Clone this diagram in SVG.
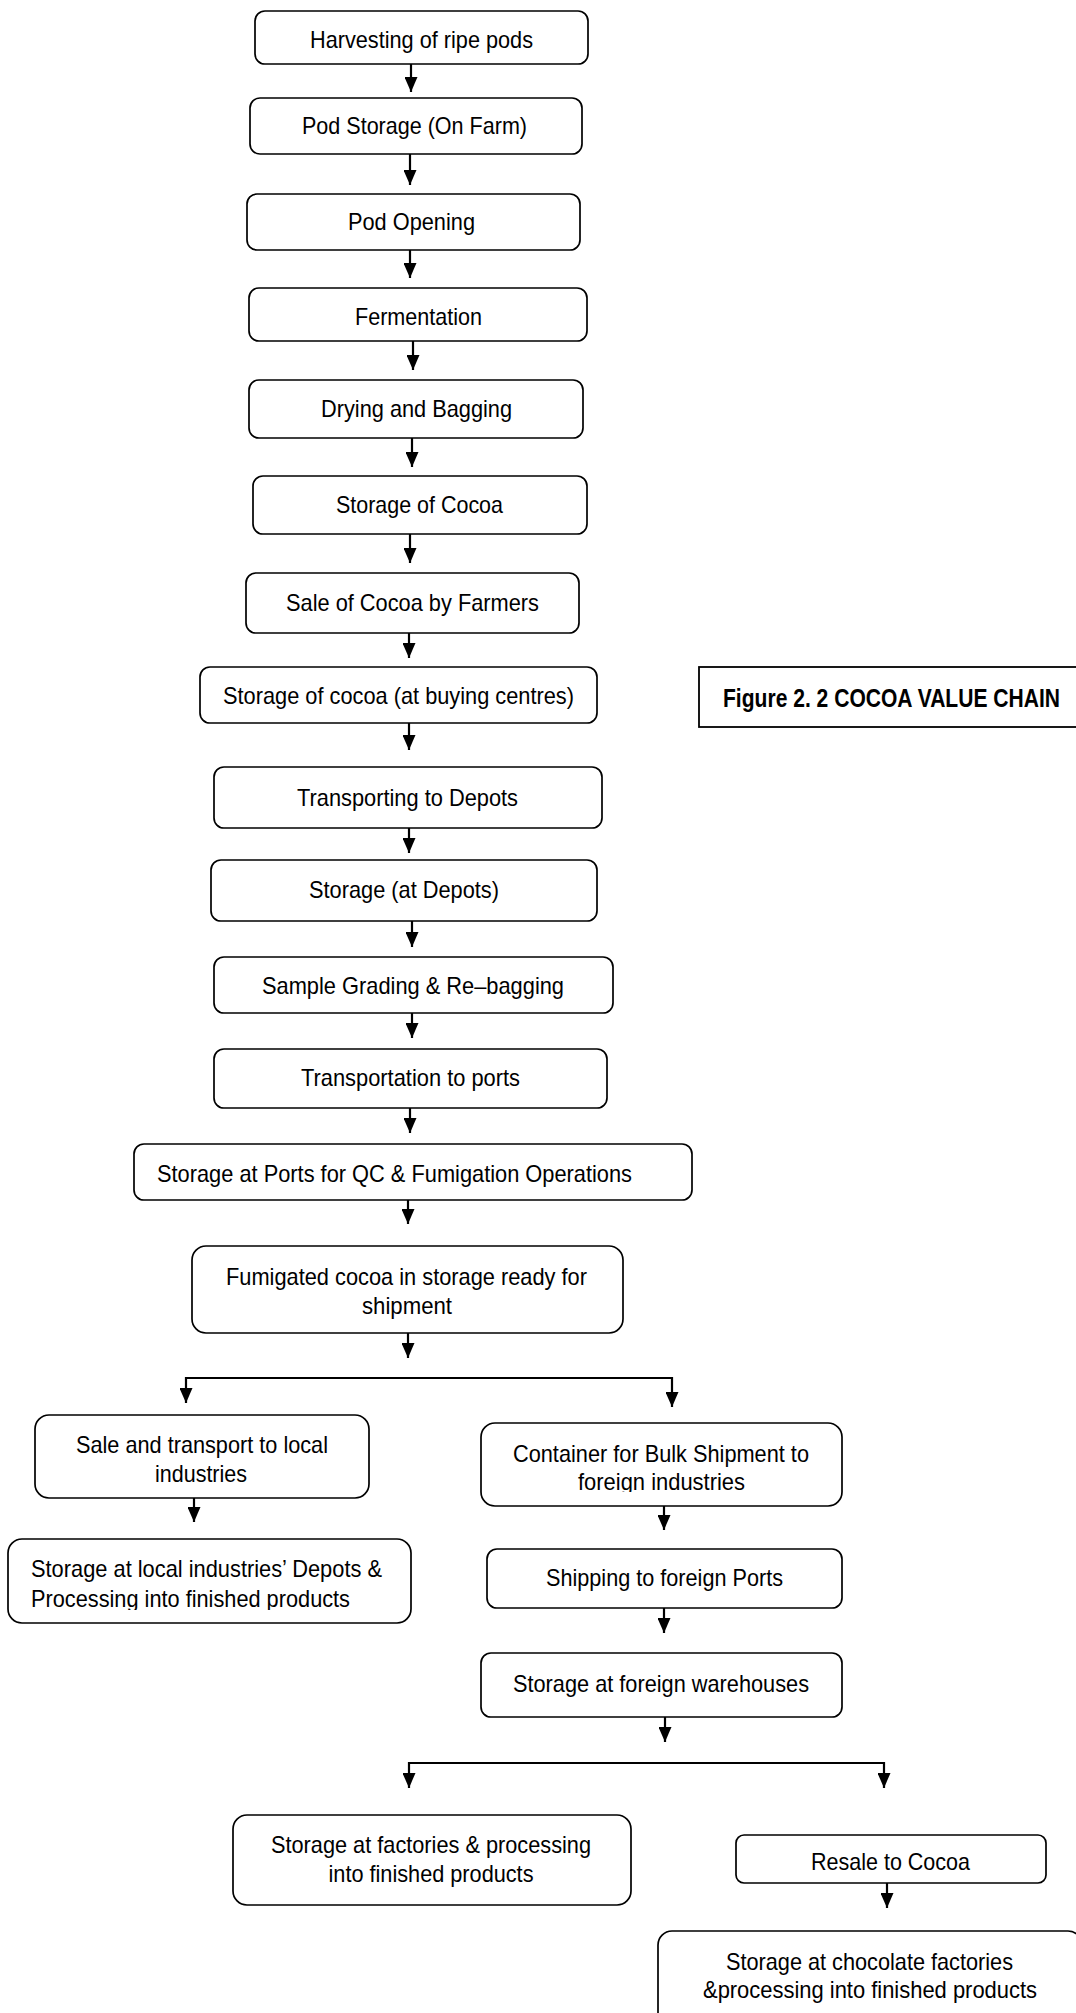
<svg xmlns="http://www.w3.org/2000/svg" width="1076" height="2013" viewBox="0 0 1076 2013">
<style>
.box{fill:#fff;stroke:#000;stroke-width:1.7}
.t{font-family:"Liberation Sans",Arial,sans-serif;font-size:24px;fill:#000;text-anchor:middle}
.l{text-anchor:start}
.b{font-weight:bold;font-size:26px}
.c{fill:none;stroke:#000;stroke-width:2.2}
</style>
<defs>
<marker id="ah" markerUnits="userSpaceOnUse" viewBox="0 0 15 13" markerWidth="15" markerHeight="13" refX="15" refY="6.5" orient="auto">
<path d="M0,0 L15,6.5 L0,13 z" fill="#000"/>
</marker>
<clipPath id="clipLocal"><rect x="0" y="1530" width="420" height="80"/></clipPath>
<clipPath id="clipCont"><rect x="470" y="1420" width="380" height="72"/></clipPath>
</defs>
<rect width="1076" height="2013" fill="#fff"/>

<g id="connectors">
<path class="c" marker-end="url(#ah)" d="M411,64 V92"/>
<path class="c" marker-end="url(#ah)" d="M410,154 V185"/>
<path class="c" marker-end="url(#ah)" d="M410,250 V278"/>
<path class="c" marker-end="url(#ah)" d="M413,341 V370"/>
<path class="c" marker-end="url(#ah)" d="M412,438 V467"/>
<path class="c" marker-end="url(#ah)" d="M410,534 V563"/>
<path class="c" marker-end="url(#ah)" d="M409,633 V658"/>
<path class="c" marker-end="url(#ah)" d="M409,723 V750"/>
<path class="c" marker-end="url(#ah)" d="M409,828 V853"/>
<path class="c" marker-end="url(#ah)" d="M412,921 V947"/>
<path class="c" marker-end="url(#ah)" d="M412,1013 V1038"/>
<path class="c" marker-end="url(#ah)" d="M410,1108 V1133"/>
<path class="c" marker-end="url(#ah)" d="M408,1200 V1224"/>
<path class="c" marker-end="url(#ah)" d="M408,1333 V1358"/>
<path class="c" marker-end="url(#ah)" d="M672,1378 H186 V1403"/>
<path class="c" marker-end="url(#ah)" d="M186,1378 H672 V1407"/>
<path class="c" marker-end="url(#ah)" d="M194,1498 V1522"/>
<path class="c" marker-end="url(#ah)" d="M664,1506 V1530"/>
<path class="c" marker-end="url(#ah)" d="M664,1608 V1633"/>
<path class="c" marker-end="url(#ah)" d="M665,1717 V1742"/>
<path class="c" marker-end="url(#ah)" d="M884,1763 H409 V1788"/>
<path class="c" marker-end="url(#ah)" d="M409,1763 H884 V1788"/>
<path class="c" marker-end="url(#ah)" d="M887,1883 V1908"/>
</g>

<g id="n1"><rect class="box" x="255" y="11" width="333" height="53" rx="10"/><text class="t" x="421.5" y="48" textLength="223" lengthAdjust="spacingAndGlyphs">Harvesting of ripe pods</text></g>
<g id="n2"><rect class="box" x="250" y="98" width="332" height="56" rx="10"/><text class="t" x="414.5" y="134" textLength="225" lengthAdjust="spacingAndGlyphs">Pod Storage (On Farm)</text></g>
<g id="n3"><rect class="box" x="247" y="194" width="333" height="56" rx="10"/><text class="t" x="411.5" y="230" textLength="127" lengthAdjust="spacingAndGlyphs">Pod Opening</text></g>
<g id="n4"><rect class="box" x="249" y="288" width="338" height="53" rx="10"/><text class="t" x="418.5" y="325" textLength="127" lengthAdjust="spacingAndGlyphs">Fermentation</text></g>
<g id="n5"><rect class="box" x="249" y="380" width="334" height="58" rx="10"/><text class="t" x="416.5" y="417" textLength="191" lengthAdjust="spacingAndGlyphs">Drying and Bagging</text></g>
<g id="n6"><rect class="box" x="253" y="476" width="334" height="58" rx="10"/><text class="t" x="419.5" y="513" textLength="167" lengthAdjust="spacingAndGlyphs">Storage of Cocoa</text></g>
<g id="n7"><rect class="box" x="246" y="573" width="333" height="60" rx="10"/><text class="t" x="412.5" y="611" textLength="253" lengthAdjust="spacingAndGlyphs">Sale of Cocoa by Farmers</text></g>
<g id="n8"><rect class="box" x="200" y="667" width="397" height="56" rx="10"/><text class="t" x="398.5" y="704" textLength="351" lengthAdjust="spacingAndGlyphs">Storage of cocoa (at buying centres)</text></g>
<g id="n9"><rect class="box" x="214" y="767" width="388" height="61" rx="10"/><text class="t" x="407.5" y="806" textLength="221" lengthAdjust="spacingAndGlyphs">Transporting to Depots</text></g>
<g id="n10"><rect class="box" x="211" y="860" width="386" height="61" rx="10"/><text class="t" x="404" y="898" textLength="190" lengthAdjust="spacingAndGlyphs">Storage (at Depots)</text></g>
<g id="n11"><rect class="box" x="214" y="957" width="399" height="56" rx="10"/><text class="t" x="413" y="994" textLength="302" lengthAdjust="spacingAndGlyphs">Sample Grading &amp; Re–bagging</text></g>
<g id="n12"><rect class="box" x="214" y="1049" width="393" height="59" rx="10"/><text class="t" x="410.5" y="1086" textLength="219" lengthAdjust="spacingAndGlyphs">Transportation to ports</text></g>
<g id="n13"><rect class="box" x="134" y="1144" width="558" height="56" rx="10"/><text class="t" x="394.5" y="1182" textLength="475" lengthAdjust="spacingAndGlyphs">Storage at Ports for QC &amp; Fumigation Operations</text></g>
<g id="n14"><rect class="box" x="192" y="1246" width="431" height="87" rx="14"/><text class="t" x="406.5" y="1285" textLength="361" lengthAdjust="spacingAndGlyphs">Fumigated cocoa in storage ready for</text><text class="t" x="407" y="1314" textLength="90" lengthAdjust="spacingAndGlyphs">shipment</text></g>

<g id="figure-title"><rect x="699" y="667" width="384" height="60" fill="#fff" stroke="#000" stroke-width="1.8"/><text class="t b" x="891.5" y="707" textLength="337" lengthAdjust="spacingAndGlyphs">Figure 2. 2 COCOA VALUE CHAIN</text></g>

<g id="n15"><rect class="box" x="35" y="1415" width="334" height="83" rx="14"/><text class="t" x="202" y="1453" textLength="252" lengthAdjust="spacingAndGlyphs">Sale and transport to local</text><text class="t" x="201" y="1482" textLength="92" lengthAdjust="spacingAndGlyphs">industries</text></g>
<g id="n16"><rect class="box" x="8" y="1539" width="403" height="84" rx="14"/><g clip-path="url(#clipLocal)"><text class="t l" x="31" y="1577" textLength="351" lengthAdjust="spacingAndGlyphs">Storage at local industries’ Depots &amp;</text><text class="t l" x="31" y="1607" textLength="319" lengthAdjust="spacingAndGlyphs">Processing into finished products</text></g></g>
<g id="n17"><rect class="box" x="481" y="1423" width="361" height="83" rx="14"/><g clip-path="url(#clipCont)"><text class="t" x="661" y="1462" textLength="296" lengthAdjust="spacingAndGlyphs">Container for Bulk Shipment to</text><text class="t" x="661.5" y="1490" textLength="167" lengthAdjust="spacingAndGlyphs">foreign industries</text></g></g>
<g id="n18"><rect class="box" x="487" y="1549" width="355" height="59" rx="10"/><text class="t" x="664.5" y="1586" textLength="237" lengthAdjust="spacingAndGlyphs">Shipping to foreign Ports</text></g>
<g id="n19"><rect class="box" x="481" y="1653" width="361" height="64" rx="10"/><text class="t" x="661" y="1692" textLength="296" lengthAdjust="spacingAndGlyphs">Storage at foreign warehouses</text></g>
<g id="n20"><rect class="box" x="233" y="1815" width="398" height="90" rx="14"/><text class="t" x="431" y="1853" textLength="320" lengthAdjust="spacingAndGlyphs">Storage at factories &amp; processing</text><text class="t" x="431" y="1882" textLength="205" lengthAdjust="spacingAndGlyphs">into finished products</text></g>
<g id="n21"><rect class="box" x="736" y="1835" width="310" height="48" rx="8"/><text class="t" x="890.5" y="1870" textLength="159" lengthAdjust="spacingAndGlyphs">Resale to Cocoa</text></g>
<g id="n22"><rect class="box" x="658" y="1931" width="424" height="100" rx="14"/><text class="t" x="869.5" y="1970" textLength="287" lengthAdjust="spacingAndGlyphs">Storage at chocolate factories</text><text class="t" x="870" y="1998" textLength="334" lengthAdjust="spacingAndGlyphs">&amp;processing into finished products</text></g>
</svg>
